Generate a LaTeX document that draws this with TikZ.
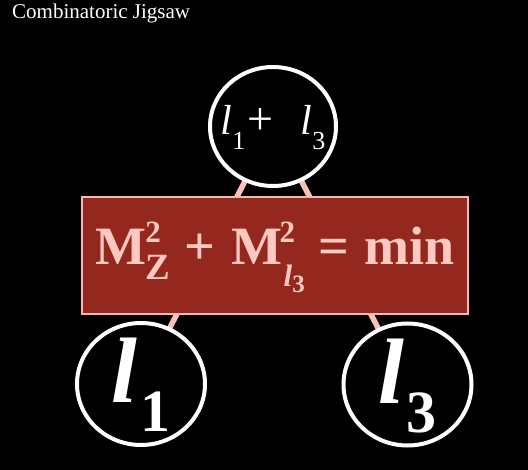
\documentclass[tikz,border=0pt]{standalone}
\usepackage{fontspec}
\setmainfont{Liberation Serif}
\usetikzlibrary{backgrounds,shapes.geometric}
\definecolor{boxred}{HTML}{94281F}
\definecolor{boxedge}{HTML}{F4B8B0}
\definecolor{pinktext}{HTML}{FFC8C0}
\definecolor{linkpink}{HTML}{F7C0B8}
\newcommand\fsz[1]{\fontsize{#1}{#1}\selectfont}
\newcommand\flatbox[2]{\raisebox{#1}[0pt][0pt]{\makebox[0pt]{#2}}}
\begin{document}
\begin{tikzpicture}[x=1pt,y=-1pt,
  ring/.style={ellipse, draw=white, line width=4pt, fill=black, inner sep=0pt, outer sep=0pt, text=white},
  link/.style={draw=linkpink, line width=5.5pt},
  eqbox/.style={rectangle, draw=boxedge, line width=2pt, fill=boxred, inner sep=0pt, outer sep=0pt,
     minimum width=386pt, minimum height=117pt, text=pinktext, text height=40pt, text depth=21pt},
  titlestyle/.style={anchor=base west, inner sep=0pt, text=white, font=\fsz{21}}
]
\useasboundingbox (0,0) rectangle (528,470);

\node[titlestyle] (title) at (12,18.5) {Combinatoric Jigsaw};

\node[ring, minimum width=126pt, minimum height=119pt] (top) at (273,126.5)
  {\flatbox{-8.5pt}{{\fsz{42}\itshape l}{\fsz{26}\raisebox{-15pt}{1}}\kern2.5pt{\fsz{46}+}\kern27pt{\fsz{42}\itshape l}{\fsz{26}\raisebox{-15pt}{3}}}};

\node[ring, minimum width=128pt, minimum height=122pt] (left) at (141,384)
  {\flatbox{-19pt}{{\fsz{93}\bfseries\itshape l}\kern4pt{\fsz{60}\bfseries\raisebox{-29pt}{1}}}};

\node[ring, minimum width=128pt, minimum height=122pt] (right) at (407.5,384.5)
  {\flatbox{-19pt}{{\fsz{93}\bfseries\itshape l}\kern3pt{\fsz{60}\bfseries\raisebox{-29pt}{3}}}};

\node[eqbox] (eq) at (275,255.5)
  {\fsz{54}\bfseries M\kern-1pt\rlap{\raisebox{22pt}{\fsz{31}2}}\raisebox{-15pt}{\fsz{37}Z}\kern14pt+\kern17pt M\kern-3pt\rlap{\raisebox{22pt}{\fsz{31}2}}\raisebox{-22pt}{\kern4pt\fsz{31}\itshape l\raisebox{-6pt}{\upshape\fsz{25}3}}\kern14pt=\kern15pt min};

\begin{scope}[on background layer]
  \fill[black] (0,0) rectangle (528,470);
  \draw[link] (top) -- (left);
  \draw[link] (top) -- (right);
\end{scope}
\end{tikzpicture}
\end{document}
